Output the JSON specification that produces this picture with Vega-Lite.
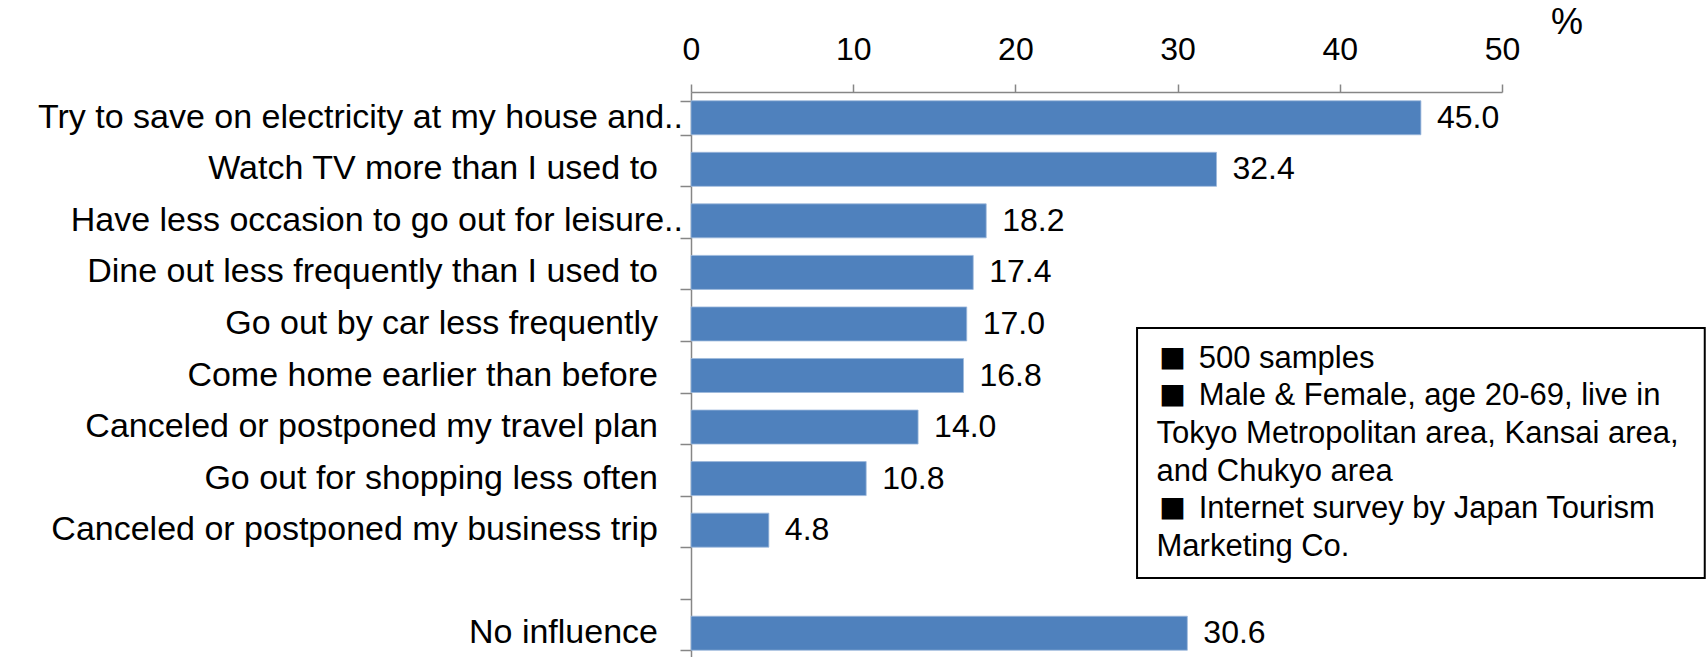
{
  "$schema": "https://vega.github.io/schema/vega-lite/v6.json",
  "autosize": "none",
  "width": 811,
  "height": 567,
  "padding": {"left": 691, "top": 92, "right": 205, "bottom": 0},
  "background": "white",
  "config": {"view": {"stroke": null}, "font": "Liberation Sans"},
  "datasets": {
    "answers": [
      {"label": "Try to save on electricity at my house and..", "value": 45.0},
      {"label": "Watch TV more than I used to", "value": 32.4},
      {"label": "Have less occasion to go out for leisure..", "value": 18.2},
      {"label": "Dine out less frequently than I used to", "value": 17.4},
      {"label": "Go out by car less frequently", "value": 17.0},
      {"label": "Come home earlier than before", "value": 16.8},
      {"label": "Canceled or postponed my travel plan", "value": 14.0},
      {"label": "Go out for shopping less often", "value": 10.8},
      {"label": "Canceled or postponed my business trip", "value": 4.8},
      {"label": "No influence", "value": 30.6}
    ]
  },
  "layer": [
    {
      "data": {"name": "answers"},
      "encoding": {
        "y": {
          "field": "label",
          "type": "nominal",
          "sort": null,
          "scale": {
            "domain": [
              "Try to save on electricity at my house and..",
              "Watch TV more than I used to",
              "Have less occasion to go out for leisure..",
              "Dine out less frequently than I used to",
              "Go out by car less frequently",
              "Come home earlier than before",
              "Canceled or postponed my travel plan",
              "Go out for shopping less often",
              "Canceled or postponed my business trip",
              "blank",
              "No influence"
            ],
            "paddingInner": 0.34,
            "paddingOuter": 0.17
          },
          "axis": {
            "labels": false,
            "title": null,
            "grid": false,
            "tickBand": "extent",
            "tickSize": 11,
            "tickColor": "#868686",
            "domainColor": "#868686",
            "domainWidth": 1.5,
            "tickWidth": 1.5
          }
        }
      },
      "layer": [
        {
          "mark": {"type": "bar", "color": "#4F81BD", "stroke": "#9DB9DC", "strokeWidth": 0.8},
          "encoding": {
            "x": {
              "field": "value",
              "type": "quantitative",
              "scale": {"domain": [0, 50], "nice": false},
              "axis": {
                "orient": "top",
                "values": [0, 10, 20, 30, 40, 50],
                "title": null,
                "grid": false,
                "tickSize": 8,
                "tickColor": "#868686",
                "tickWidth": 1.5,
                "domainColor": "#868686",
                "domainWidth": 1.5,
                "labelFontSize": 32,
                "labelColor": "black",
                "labelPadding": 18,
                "labelFlush": false,
                "labelOverlap": false
              }
            }
          }
        },
        {
          "mark": {"type": "text", "align": "left", "baseline": "middle", "dx": 16, "fontSize": 32, "color": "black"},
          "encoding": {
            "x": {"field": "value", "type": "quantitative", "scale": {"domain": [0, 50], "nice": false}},
            "text": {"field": "value", "type": "quantitative", "format": ".1f"}
          }
        },
        {
          "transform": [{"filter": "slice(datum.label, -2) != '..'"}],
          "mark": {"type": "text", "align": "right", "baseline": "middle", "dx": -33, "fontSize": 34, "color": "black"},
          "encoding": {
            "x": {"datum": 0, "type": "quantitative", "scale": {"domain": [0, 50], "nice": false}},
            "text": {"field": "label"}
          }
        },
        {
          "transform": [{"filter": "slice(datum.label, -2) == '..'"}],
          "mark": {"type": "text", "align": "right", "baseline": "middle", "dx": -8, "fontSize": 34, "color": "black"},
          "encoding": {
            "x": {"datum": 0, "type": "quantitative", "scale": {"domain": [0, 50], "nice": false}},
            "text": {"field": "label"}
          }
        }
      ]
    },
    {
      "data": {"values": [{"note": "survey"}]},
      "layer": [
        {
          "mark": {"type": "rect", "fill": "white", "stroke": "black", "strokeWidth": 2},
          "encoding": {
            "x": {"datum": 27.5, "type": "quantitative", "scale": {"domain": [0, 50], "nice": false}},
            "x2": {"datum": 62.5},
            "y": {"datum": 4.58, "type": "quantitative", "scale": {"domain": [0, 11], "reverse": true, "nice": false, "zero": false}, "axis": null},
            "y2": {"datum": 9.43}
          }
        },
        {
          "mark": {"type": "text", "align": "left", "baseline": "alphabetic", "font": "Noto Sans CJK JP", "fontSize": 27, "lineHeight": 37.6, "color": "black", "text": ["■", "■"]},
          "encoding": {
            "x": {"datum": 28.85, "type": "quantitative", "scale": {"domain": [0, 50], "nice": false}},
            "y": {"datum": 5.37, "type": "quantitative", "scale": {"domain": [0, 11], "reverse": true, "nice": false, "zero": false}, "axis": null}
          }
        },
        {
          "mark": {"type": "text", "align": "left", "baseline": "alphabetic", "font": "Noto Sans CJK JP", "fontSize": 27, "color": "black", "text": "■"},
          "encoding": {
            "x": {"datum": 28.85, "type": "quantitative", "scale": {"domain": [0, 50], "nice": false}},
            "y": {"datum": 8.288, "type": "quantitative", "scale": {"domain": [0, 11], "reverse": true, "nice": false, "zero": false}, "axis": null}
          }
        },
        {
          "mark": {"type": "text", "align": "left", "baseline": "alphabetic", "fontSize": 31, "lineHeight": 37.6, "color": "black", "text": ["500 samples", "Male & Female, age 20-69, live in"]},
          "encoding": {
            "x": {"datum": 31.3, "type": "quantitative", "scale": {"domain": [0, 50], "nice": false}},
            "y": {"datum": 5.35, "type": "quantitative", "scale": {"domain": [0, 11], "reverse": true, "nice": false, "zero": false}, "axis": null}
          }
        },
        {
          "mark": {"type": "text", "align": "left", "baseline": "alphabetic", "fontSize": 31, "lineHeight": 37.6, "color": "black", "text": ["Tokyo  Metropolitan area, Kansai area,", "and Chukyo area"]},
          "encoding": {
            "x": {"datum": 28.7, "type": "quantitative", "scale": {"domain": [0, 50], "nice": false}},
            "y": {"datum": 6.809, "type": "quantitative", "scale": {"domain": [0, 11], "reverse": true, "nice": false, "zero": false}, "axis": null}
          }
        },
        {
          "mark": {"type": "text", "align": "left", "baseline": "alphabetic", "fontSize": 31, "color": "black", "text": "Internet survey by Japan Tourism"},
          "encoding": {
            "x": {"datum": 31.3, "type": "quantitative", "scale": {"domain": [0, 50], "nice": false}},
            "y": {"datum": 8.268, "type": "quantitative", "scale": {"domain": [0, 11], "reverse": true, "nice": false, "zero": false}, "axis": null}
          }
        },
        {
          "mark": {"type": "text", "align": "left", "baseline": "alphabetic", "fontSize": 31, "color": "black", "text": "Marketing Co."},
          "encoding": {
            "x": {"datum": 28.7, "type": "quantitative", "scale": {"domain": [0, 50], "nice": false}},
            "y": {"datum": 8.997, "type": "quantitative", "scale": {"domain": [0, 11], "reverse": true, "nice": false, "zero": false}, "axis": null}
          }
        },
        {
          "mark": {"type": "text", "align": "center", "baseline": "middle", "fontSize": 36, "color": "black", "text": "%"},
          "encoding": {
            "x": {"datum": 54.0, "type": "quantitative", "scale": {"domain": [0, 50], "nice": false}},
            "y": {"datum": -1.34, "type": "quantitative", "scale": {"domain": [0, 11], "reverse": true, "nice": false, "zero": false}, "axis": null}
          }
        }
      ]
    }
  ],
  "resolve": {"scale": {"y": "independent"}, "axis": {"y": "independent"}}
}
